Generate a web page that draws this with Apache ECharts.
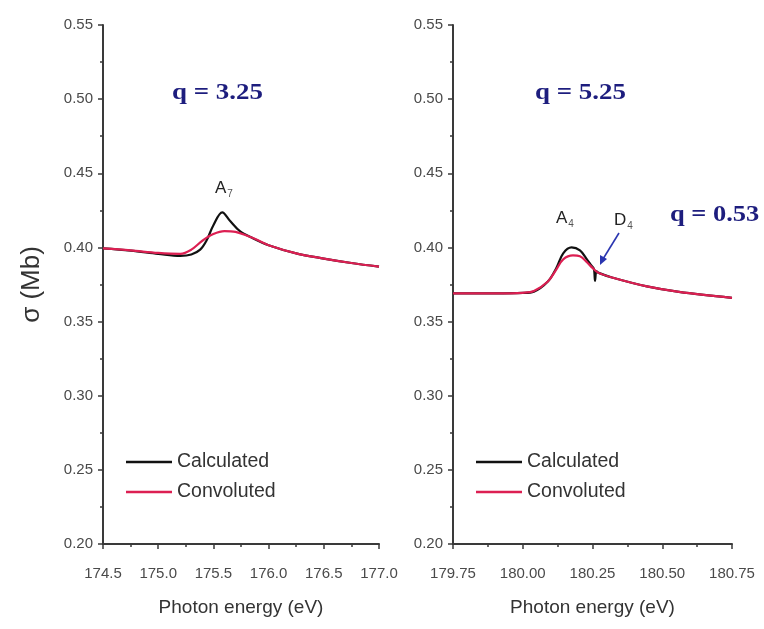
<!DOCTYPE html>
<html>
<head>
<meta charset="utf-8">
<script src="https://cdn.jsdelivr.net/npm/echarts@6/dist/echarts.min.js"></script>
<style>
  html, body { margin: 0; padding: 0; background: #ffffff; }
  #chart { width: 764px; height: 629px; }
</style>
</head>
<body>
<div id="chart"></div>
<script>
// Left panel: A7 resonance (q = 3.25)
const leftCalcE = [174.50, 174.75, 175.00, 175.20, 175.30, 175.38, 175.44, 175.50, 175.58, 175.65, 175.74, 175.85, 176.00, 176.25, 176.50, 176.75, 177.00];
const leftCalcS = [0.3993, 0.3978, 0.3957, 0.3943, 0.3952, 0.3985, 0.4050, 0.4150, 0.4237, 0.4180, 0.4110, 0.4065, 0.4015, 0.3960, 0.3925, 0.3895, 0.3870];
const leftConvE = [174.50, 174.75, 175.00, 175.20, 175.30, 175.40, 175.50, 175.60, 175.70, 175.80, 175.90, 176.00, 176.25, 176.50, 176.75, 177.00];
const leftConvS = [0.3993, 0.3980, 0.3963, 0.3957, 0.3985, 0.4045, 0.4090, 0.4110, 0.4105, 0.4080, 0.4050, 0.4015, 0.3960, 0.3925, 0.3895, 0.3870];

// Right panel: A4 and D4 resonances (q = 5.25, q = 0.53)
const rightCalcE = [179.75, 179.90, 180.00, 180.04, 180.09, 180.12, 180.145, 180.175, 180.205, 180.23, 180.245, 180.255, 180.259, 180.264, 180.27, 180.32, 180.445, 180.56, 180.75];
const rightCalcS = [0.3690, 0.3690, 0.3693, 0.3702, 0.3770, 0.3860, 0.3960, 0.4000, 0.3980, 0.3920, 0.3880, 0.3855, 0.3775, 0.3840, 0.3830, 0.3797, 0.3737, 0.3700, 0.3660];
const rightConvE = [179.75, 179.90, 180.00, 180.04, 180.09, 180.12, 180.145, 180.18, 180.205, 180.23, 180.25, 180.27, 180.32, 180.445, 180.56, 180.75];
const rightConvS = [0.3690, 0.3690, 0.3694, 0.3706, 0.3770, 0.3850, 0.3920, 0.3946, 0.3940, 0.3900, 0.3862, 0.3830, 0.3797, 0.3737, 0.3700, 0.3660];

// Axis ranges and tick steps
const sigmaMin = 0.20, sigmaMax = 0.55, sigmaStep = 0.05;
const leftEMin = 174.5, leftEMax = 177.0, leftEStep = 0.5;
const rightEMin = 179.75, rightEMax = 180.75, rightEStep = 0.25;

const seriesNames = ['Calculated', 'Convoluted'];
const calcColor = '#111111';
const convColor = '#dc1f52';
const axisColor = '#3a3a3a';
const labelColor = '#4a4a4a';

const pairs = (xs, ys) => xs.map((x, i) => [x, ys[i]]);

function xAxisFor(idx, min, max, step, decimals) {
  return {
    type: 'value', gridIndex: idx, min: min, max: max, interval: step,
    name: 'Photon energy (eV)', nameLocation: 'middle', nameGap: 54,
    nameTextStyle: { fontFamily: 'Liberation Sans, Arial', fontSize: 19, color: '#333' },
    axisLine: { show: true, onZero: false, lineStyle: { color: axisColor, width: 2 } },
    axisTick: { show: true, length: 5, lineStyle: { color: axisColor, width: 1.5 } },
    minorTick: { show: true, splitNumber: 2, length: 3, lineStyle: { color: axisColor, width: 1.5 } },
    splitLine: { show: false },
    axisLabel: {
      margin: 22, fontFamily: 'Liberation Sans, Arial', fontSize: 15, color: labelColor,
      formatter: v => v.toFixed(decimals)
    }
  };
}

function yAxisFor(idx, withName) {
  return {
    type: 'value', gridIndex: idx, min: sigmaMin, max: sigmaMax, interval: sigmaStep,
    name: withName ? 'σ (Mb)' : '', nameLocation: 'middle', nameGap: 58, nameRotate: 90,
    nameTextStyle: { fontFamily: 'Liberation Sans, Arial', fontSize: 26, color: '#333' },
    axisLine: { show: true, onZero: false, lineStyle: { color: axisColor, width: 2 } },
    axisTick: { show: true, length: 5, lineStyle: { color: axisColor, width: 1.5 } },
    minorTick: { show: true, splitNumber: 2, length: 3, lineStyle: { color: axisColor, width: 1.5 } },
    splitLine: { show: false },
    axisLabel: {
      margin: 10, fontFamily: 'Liberation Sans, Arial', fontSize: 15, color: labelColor,
      formatter: v => v.toFixed(2)
    }
  };
}

function lineSeries(name, idx, data, color) {
  return {
    name: name, type: 'line', xAxisIndex: idx, yAxisIndex: idx,
    data: data, smooth: 0.35, symbol: 'none', showSymbol: false,
    lineStyle: { color: color, width: 2.2 }, itemStyle: { color: color },
    z: name === 'Calculated' ? 2 : 3
  };
}

function legendFor(left) {
  return {
    data: seriesNames.map(n => ({ name: n, icon: 'rect' })),
    left: left, top: 447, orient: 'vertical',
    itemWidth: 46, itemHeight: 2.5, itemGap: 10, selectedMode: false,
    textStyle: { fontFamily: 'Liberation Sans, Arial', fontSize: 19.5, color: '#333' }
  };
}

const qStyle = { fontFamily: 'Liberation Serif, Times New Roman', fontSize: 23, fontWeight: 'bold', fill: '#1d1d7e' };
const peakStyle = {
  fontFamily: 'Liberation Sans, Arial', fontSize: 17, fill: '#222',
  rich: { s: { fontSize: 10, fill: '#555', padding: [12, 0, 0, 1] } }
};

const chart = echarts.init(document.getElementById('chart'), null, { renderer: 'canvas' });
chart.setOption({
  backgroundColor: '#ffffff',
  animation: false,
  grid: [
    { left: 103, top: 25, width: 276, height: 519 },
    { left: 453, top: 25, width: 279, height: 519 }
  ],
  xAxis: [
    xAxisFor(0, leftEMin, leftEMax, leftEStep, 1),
    xAxisFor(1, rightEMin, rightEMax, rightEStep, 2)
  ],
  yAxis: [yAxisFor(0, true), yAxisFor(1, false)],
  legend: [legendFor(121), legendFor(471)],
  series: [
    lineSeries('Calculated', 0, pairs(leftCalcE, leftCalcS), calcColor),
    lineSeries('Convoluted', 0, pairs(leftConvE, leftConvS), convColor),
    lineSeries('Calculated', 1, pairs(rightCalcE, rightCalcS), calcColor),
    lineSeries('Convoluted', 1, pairs(rightConvE, rightConvS), convColor)
  ],
  graphic: [
    { type: 'text', x: 172, y: 82, scaleX: 1.17, style: Object.assign({ text: 'q = 3.25' }, qStyle) },
    { type: 'text', x: 535, y: 82, scaleX: 1.17, style: Object.assign({ text: 'q = 5.25' }, qStyle) },
    { type: 'text', x: 670, y: 204, scaleX: 1.15, style: Object.assign({ text: 'q = 0.53' }, qStyle) },
    { type: 'text', x: 215, y: 177, style: Object.assign({ text: 'A{s|7}' }, peakStyle) },
    { type: 'text', x: 556, y: 207, style: Object.assign({ text: 'A{s|4}' }, peakStyle) },
    { type: 'text', x: 614, y: 209, style: Object.assign({ text: 'D{s|4}' }, peakStyle) },
    { type: 'line', shape: { x1: 619, y1: 233, x2: 603, y2: 259 }, style: { stroke: '#2a35b0', lineWidth: 1.6 } },
    { type: 'polygon', shape: { points: [[600, 265], [600, 255], [607, 259]] }, style: { fill: '#2a35b0' } }
  ]
});
</script>
</body>
</html>
